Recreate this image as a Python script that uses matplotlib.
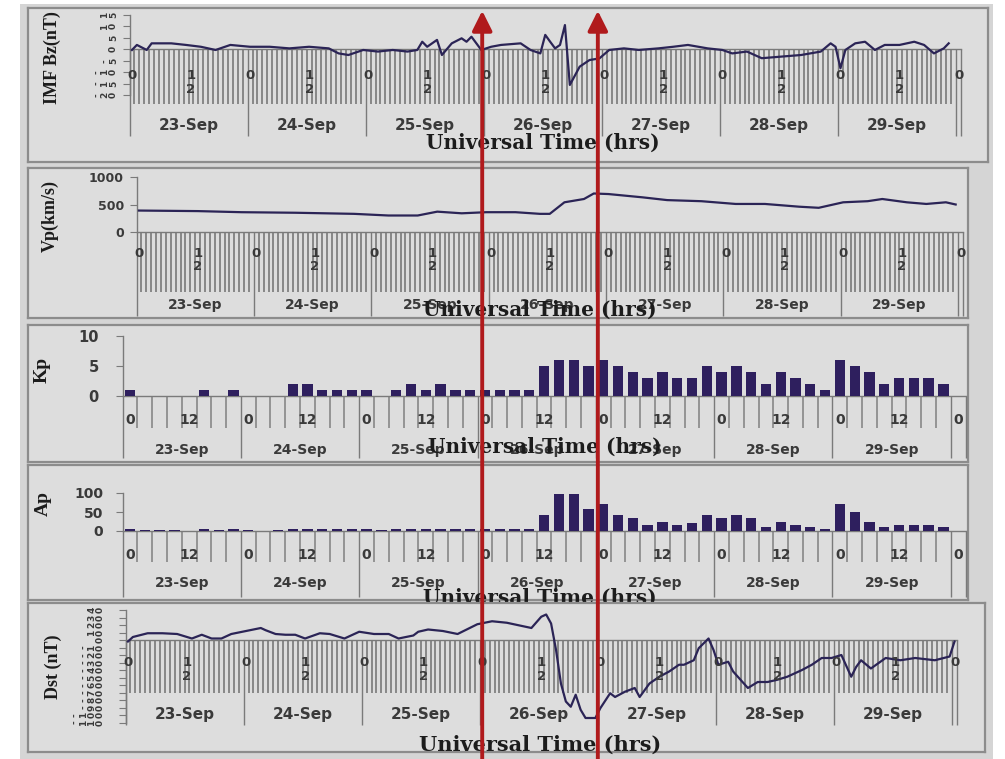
import numpy as np
import matplotlib
matplotlib.use("Agg")
import matplotlib.pyplot as plt
from matplotlib.patches import Rectangle, FancyArrowPatch
from matplotlib.transforms import ScaledTranslation, blended_transform_factory

W, H, DPI = 1005, 759, 100

# ---------------- data ----------------
DAYS = ["23-Sep", "24-Sep", "25-Sep", "26-Sep", "27-Sep", "28-Sep", "29-Sep"]

# IMF Bz (nT), hours from 23-Sep 00 UT
BZ_HOURS = [0, 1, 3, 4, 8, 11, 14, 17, 20, 24, 28, 32, 36, 40, 42, 44, 47, 50, 53, 56,
            58, 59, 60, 62, 63, 65, 67, 68, 69, 71, 73, 75, 79, 81, 83, 84, 85, 86, 87,
            88, 89, 91, 93, 95, 97, 100, 103, 107, 110, 113, 117, 120, 122, 125, 128,
            132, 136, 140, 142, 143, 144, 145, 147, 149, 151, 153, 156, 159, 161, 163,
            165, 166]
BZ_VALUES = [-0.3, 1.9, -0.3, 2.6, 2.6, 1.9, 1.1, -0.3, 1.9, 1.1, 1.1, 0.4, 1.1, 0.4,
             -1.8, -2.5, -0.3, -1.0, -0.3, -1.0, -0.3, 3.3, 1.1, 4.1, -2.5, 2.6, 4.8,
             3.3, 5.5, -0.3, 1.1, 1.9, 2.6, -0.3, -1.8, 6.3, 3.3, 0.4, 1.9, 10.6, -15.6,
             -7.6, -4.7, -4.0, -0.3, 0.4, -0.3, 0.4, 1.1, 1.9, 0.4, -0.3, -1.8, -1.0,
             -3.9, -3.2, -2.5, -1.0, 2.6, 1.1, -8.3, -0.3, 2.6, 3.3, -0.3, 1.9, 1.9, 3.3,
             1.9, -1.8, 0.4, 2.6]

# solar wind speed Vp (km/s)
VP_HOURS = [0, 12, 21, 32, 44, 51, 57, 61, 66, 71, 77, 82, 84, 87, 91, 93, 96, 103,
            108, 115, 122, 128, 135, 139, 144, 149, 152, 157, 161, 165, 167]
VP_VALUES = [390, 380, 360, 350, 330, 300, 300, 370, 340, 360, 360, 330, 330, 540, 600,
             700, 690, 630, 580, 560, 510, 510, 460, 440, 540, 560, 600, 540, 510, 540, 500]

# 3-hourly Kp and Ap, 23-Sep 00 UT .. 29-Sep 21 UT
KP_VALUES = [1, 0, 0, 0, 0, 1, 0, 1,
             0, 0, 0, 2, 2, 1, 1, 1,
             1, 0, 1, 2, 1, 2, 1, 1,
             1, 1, 1, 1, 5, 6, 6, 5,
             6, 5, 4, 3, 4, 3, 3, 5,
             4, 5, 4, 2, 4, 3, 2, 1,
             6, 5, 4, 2, 3, 3, 3, 2]
AP_VALUES = [4, 2, 2, 2, 0, 4, 2, 4,
             3, 0, 3, 6, 6, 4, 4, 4,
             4, 2, 4, 6, 4, 6, 4, 4,
             4, 4, 4, 4, 43, 97, 97, 58,
             70, 43, 33, 17, 25, 15, 20, 43,
             33, 43, 33, 10, 25, 17, 10, 6,
             70, 50, 25, 10, 17, 17, 17, 10]

# Dst (nT)
DST_HOURS = [0, 1, 4, 7, 10, 13, 15, 17, 19, 21, 24, 27, 28, 30, 32, 34, 36, 39, 41, 44,
             47, 50, 53, 55, 58, 59, 61, 64, 67, 71, 74, 77, 82, 84, 85, 86, 87, 88, 89,
             90, 91, 92, 93, 95, 96, 98, 99, 101, 103, 104, 106, 108, 110, 112, 113, 115,
             116, 118, 119, 120, 122, 123, 126, 128, 130, 132, 134, 137, 139, 141, 143,
             145, 147, 148, 149, 151, 154, 157, 160, 164, 167, 168]
DST_VALUES = [-2, 4, 9, 9, 8, 2, 7, 2, 2, 8, 12, 16, 13, 8, 7, 7, 2, 9, 8, 2,
              11, 8, 8, 2, 6, 11, 14, 12, 8, 21, 25, 23, 16, 31, 34, 22, -13, -58, -82,
              -89, -73, -93, -104, -104, -91, -71, -76, -69, -64, -76, -58, -49, -42, -33,
              -33, -27, -11, 2, -13, -33, -29, -42, -64, -56, -56, -53, -49, -40, -33, -24,
              -24, -20, -49, -36, -27, -38, -24, -27, -24, -27, -22, -2]

# storm-interval markers (hours from 23-Sep 00 UT)
ARROW_HOURS = [72.0, 95.5]

# ---------------- style ----------------
OUTER = "#d5d5d5"
PANEL_BG = "#dddddd"
BORDER = "#8c8c8c"
AXIS_C = "#7a7a7a"
HATCH_C = "#808080"
LINE_C = "#2b2456"
BAR_C = "#2e1f5e"
TXT = "#3a3a3a"
ARROW_C = "#b01a1c"
SERIF = "Liberation Serif"
WIDE_SERIF = "DejaVu Serif"

fig = plt.figure(figsize=(W / DPI, H / DPI), dpi=DPI)
fig.patch.set_facecolor("white")
fig.add_artist(Rectangle((20 / W, 0), (993 - 20) / W, 1 - 4 / H, transform=fig.transFigure,
                         facecolor=OUTER, edgecolor="none", zorder=-1))


def px_rect(l, t, r, b):
    return [l / W, 1 - b / H, (r - l) / W, (b - t) / H]


def below(ax, px):
    # data coords shifted down by px pixels
    return ax.transData + ScaledTranslation(0, -px / DPI, fig.dpi_scale_trans)


def panel(box):
    bg = fig.add_axes(px_rect(*box))
    bg.set_facecolor(PANEL_BG)
    bg.set_xticks([])
    bg.set_yticks([])
    for s in bg.spines.values():
        s.set_edgecolor(BORDER)
        s.set_linewidth(1.6)
    return bg


def data_axes(rect, xlim, ylim):
    ax = fig.add_axes(px_rect(*rect))
    ax.set_facecolor("none")
    ax.set_xlim(*xlim)
    ax.set_ylim(*ylim)
    ax.spines["top"].set_visible(False)
    ax.spines["right"].set_visible(False)
    ax.spines["bottom"].set_position(("data", 0))
    for s in ("left", "bottom"):
        ax.spines[s].set_color(AXIS_C)
        ax.spines[s].set_linewidth(1.0)
    return ax


def category_axis(ax, edges, day_edges, sep_px, day_px, cat_labels, label_px, label_size,
                  date_x, date_px, date_size, hatch_w):
    ax.set_xticks(day_edges)
    ax.set_xticks(edges, minor=True)
    ax.tick_params(axis="x", which="major", length=day_px * 0.72, width=1.0,
                   color=AXIS_C, labelbottom=False)
    ax.tick_params(axis="x", which="minor", length=sep_px * 0.72, width=hatch_w,
                   color=HATCH_C, labelbottom=False)
    for x, s in cat_labels:
        ax.text(x, 0, s, transform=below(ax, label_px), ha="center", va="top",
                fontsize=label_size, fontweight="bold", color=TXT, linespacing=1.05)
    for x, s in zip(date_x, DAYS):
        ax.text(x, 0, s, transform=below(ax, date_px), ha="center", va="center",
                fontsize=date_size, fontweight="bold", color=TXT)


def stacked_yticks(ax, values, right_px, step_px=8.5, size=6.5):
    # tiny labels whose glyphs are turned on their side, as in the original
    ax.set_yticks(values)
    ax.tick_params(axis="y", length=5, width=0.8, color=AXIS_C, labelleft=False)
    for v in values:
        s = str(v)
        for i, ch in enumerate(reversed(s)):
            dx = -(right_px + i * step_px) / DPI
            tr = ax.get_yaxis_transform() + ScaledTranslation(dx, 0, fig.dpi_scale_trans)
            ax.text(0, v, ch, transform=tr, rotation=90, ha="center", va="center",
                    fontsize=size, fontweight="bold", color=TXT)


def plain_yticks(ax, values, size, pad):
    ax.set_yticks(values)
    ax.tick_params(axis="y", length=5, width=0.8, color=AXIS_C, labelsize=size,
                   labelcolor=TXT, pad=pad)
    for lbl in ax.get_yticklabels():
        lbl.set_fontweight("bold")


def ut_label(ax, x, y, size=14.5):
    ax.text(x / W, 1 - y / H, "Universal Time (hrs)", transform=fig.transFigure,
            ha="center", va="center", fontsize=size, fontweight="bold",
            family=WIDE_SERIF, color="#1c1c1c", clip_on=False)


def ylab(ax, x, y, s, size=13):
    ax.text(x / W, 1 - y / H, s, transform=fig.transFigure, rotation=90, ha="center",
            va="center", fontsize=size, fontweight="bold", family=SERIF, color="#1c1c1c")


hour_edges = np.arange(-0.5, 169, 1.0)
hour_days = np.arange(-0.5, 169, 24.0).tolist() + [168.5]
hour_labels = [(24 * k, "0") for k in range(8)] + [(24 * k + 12, "1\n2") for k in range(7)]
hour_dates = [24 * k + 11.5 for k in range(7)]

slot_edges = np.arange(0, 172, 3.0)
slot_days = np.arange(0, 169, 24.0).tolist() + [171.0]
slot_labels = [(24 * k + 1.5, "0") for k in range(8)] + [(24 * k + 13.5, "12") for k in range(7)]
slot_dates = [24 * k + 12 for k in range(7)]
slot_centers = 1.5 + 3 * np.arange(len(KP_VALUES))

# ---------------- panel 1: IMF Bz ----------------
panel((28, 8, 988, 162))
ax1 = data_axes((129.5, 15, 961, 95), (-0.5, 168.5), (-20, 15))
ax1.plot(BZ_HOURS, BZ_VALUES, color=LINE_C, lw=1.6, zorder=3)
category_axis(ax1, hour_edges, hour_days, 55, 87, hour_labels, 20, 9.5, hour_dates, 76, 11, 1.3)
stacked_yticks(ax1, [15, 10, 5, 0, -5, -10, -15, -20], 16)
ylab(ax1, 52, 58, "IMF Bz(nT)")
ut_label(ax1, 543, 143)

# ---------------- panel 2: Vp ----------------
panel((28, 168, 968, 318))
ax2 = data_axes((136.5, 177, 963, 232), (-0.5, 168.5), (0, 1000))
ax2.plot(VP_HOURS, VP_VALUES, color=LINE_C, lw=1.6, zorder=3)
category_axis(ax2, hour_edges, hour_days, 60, 84, hour_labels, 15, 9.5, hour_dates, 73, 10, 1.3)
plain_yticks(ax2, [0, 500, 1000], 9, 4)
ylab(ax2, 50, 216, "Vp(km/s)")
ut_label(ax2, 540, 310)

# ---------------- panel 3: Kp ----------------
panel((28, 325, 968, 462))
ax3 = data_axes((122.6, 336, 965.6, 396), (0, 171), (0, 10))
ax3.bar(slot_centers, KP_VALUES, width=2.1, color=BAR_C, zorder=3)
category_axis(ax3, slot_edges, slot_days, 32, 62, slot_labels, 17, 10, slot_dates, 54, 10, 1.1)
plain_yticks(ax3, [0, 5, 10], 10.5, 12)
ylab(ax3, 42, 370, "Kp", size=14)
ut_label(ax3, 545, 447)

# ---------------- panel 4: Ap ----------------
panel((28, 465, 968, 600))
ax4 = data_axes((122.6, 493, 965.6, 531), (0, 171), (0, 100))
ax4.bar(slot_centers, AP_VALUES, width=2.1, color=BAR_C, zorder=3)
category_axis(ax4, slot_edges, slot_days, 31, 66, slot_labels, 17, 10, slot_dates, 52, 10, 1.1)
plain_yticks(ax4, [0, 50, 100], 10, 9)
ylab(ax4, 43, 504, "Ap", size=14)
ut_label(ax4, 540, 598)

# ---------------- panel 5: Dst ----------------
panel((28, 603, 985, 752))
ax5 = data_axes((125.5, 610, 957, 722.5), (-0.5, 168.5), (-110, 40))
ax5.plot(DST_HOURS, DST_VALUES, color=LINE_C, lw=1.6, zorder=3)
category_axis(ax5, hour_edges, hour_days, 53, 85, hour_labels, 16, 9.5, hour_dates, 75, 11, 1.3)
stacked_yticks(ax5, list(range(40, -111, -10)), 25)
ylab(ax5, 53, 667, "Dst (nT)")
ut_label(ax5, 540, 745, size=15)

# ---------------- red markers across all panels ----------------
arrow_tr = blended_transform_factory(ax5.transData, fig.transFigure)
for h in ARROW_HOURS:
    arr = FancyArrowPatch((h, -0.01), (h, 1 - 8 / H), transform=arrow_tr,
                          arrowstyle="-|>,head_length=8,head_width=4",
                          color=ARROW_C, lw=2.8, mutation_scale=1.5, zorder=20)
    fig.add_artist(arr)

fig.savefig("out.png", dpi=DPI, facecolor=fig.get_facecolor())
